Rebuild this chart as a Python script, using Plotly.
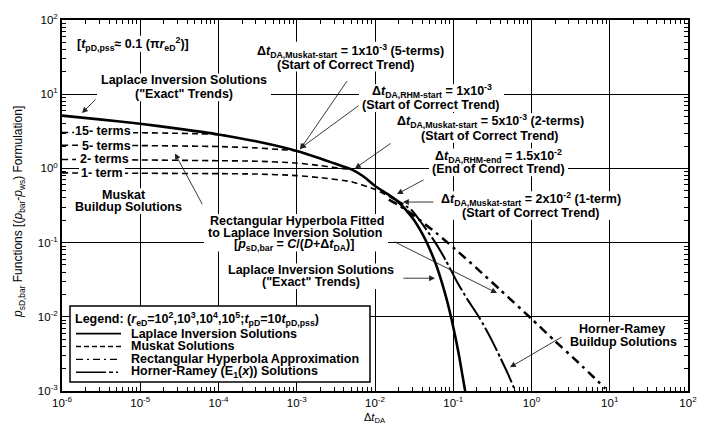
import plotly.graph_objects as go

# ---- curve data: dimensionless shut-in time vs. p_sD,bar ----
laplace_dt = [1e-6, 3e-6, 1e-5, 3e-5, 1e-4, 3e-4, 1e-3, 2e-3, 3e-3, 5e-3, 7e-3, 1e-2,
              1.5e-2, 2e-2, 3e-2, 4e-2, 5e-2, 6e-2, 7e-2, 8e-2, 9e-2, 0.1, 0.11, 0.12, 0.13, 0.142]
laplace_p = [5.14, 4.58, 4.0, 3.44, 2.87, 2.32, 1.72, 1.36, 1.17, 0.97, 0.79, 0.58,
             0.44, 0.35, 0.216, 0.133, 0.082, 0.051, 0.0313, 0.0193, 0.0119, 0.0073, 0.0045, 0.0028, 0.0017, 0.001]

muskat15_dt = [1e-6, 1e-5, 3e-5, 6e-5, 1e-4, 1.5e-4]
muskat15_p = [3.05, 3.02, 2.97, 2.92, 2.87, 2.67]

muskat5_dt = [1e-6, 1e-5, 1e-4, 3e-4, 6e-4, 1e-3, 1.5e-3]
muskat5_p = [2.05, 2.03, 1.97, 1.89, 1.80, 1.72, 1.52]

muskat2_dt = [1e-6, 1e-5, 1e-4, 3e-4, 1e-3, 2e-3, 3e-3, 4e-3, 5e-3, 7e-3]
muskat2_p = [1.32, 1.30, 1.27, 1.25, 1.18, 1.09, 1.03, 0.99, 0.965, 0.79]

muskat1_dt = [1e-6, 1e-5, 1e-4, 3e-4, 1e-3, 2e-3, 5e-3, 1e-2, 1.5e-2, 2e-2, 3e-2]
muskat1_p = [0.87, 0.86, 0.85, 0.84, 0.80, 0.75, 0.66, 0.52, 0.42, 0.35, 0.216]

hyperbola_dt = [0.015, 0.02, 0.03, 0.04, 0.06, 0.1, 0.2, 0.4, 1.0, 2.0, 4.0, 8.8]
hyperbola_p = [0.38, 0.32, 0.24, 0.19, 0.136, 0.086, 0.045, 0.023, 0.0094, 0.0047, 0.0024, 0.00108]

horner_dt = [0.012, 0.015, 0.02, 0.025, 0.0295, 0.04, 0.059, 0.08, 0.111, 0.15, 0.215, 0.3, 0.4, 0.5, 0.62]
horner_p = [0.50, 0.44, 0.36, 0.31, 0.273, 0.18, 0.1, 0.058, 0.030, 0.0175, 0.0098, 0.0052, 0.0028, 0.0017, 0.001]

x_decades = [-6, -5, -4, -3, -2, -1, 0, 1, 2]
y_decades = [-3, -2, -1, 0, 1, 2]

FONT = "Liberation Sans, Arial, Helvetica, sans-serif"
W, H = 714, 428
L, R, T, B = 62, 26, 16, 37
PW, PH = W - L - R, H - T - B

fig = go.Figure()


def add_curve(x, y, dash, width):
    fig.add_trace(go.Scatter(
        x=x, y=y, mode="lines", showlegend=False, hoverinfo="skip",
        line=dict(color="black", width=width, dash=dash, shape="spline", smoothing=0.6),
    ))


MUSKAT_DASH = "6px,4px"
HYPER_DASH = "9px,5px,3px,5px"
HORNER_DASH = "26px,3px,3px,3px"

add_curve(muskat15_dt, muskat15_p, MUSKAT_DASH, 1.6)
add_curve(muskat5_dt, muskat5_p, MUSKAT_DASH, 1.6)
add_curve(muskat2_dt, muskat2_p, MUSKAT_DASH, 1.6)
add_curve(muskat1_dt, muskat1_p, MUSKAT_DASH, 1.6)
add_curve(hyperbola_dt, hyperbola_p, HYPER_DASH, 2.5)
add_curve(horner_dt, horner_p, HORNER_DASH, 2.0)
add_curve(laplace_dt, laplace_p, "solid", 2.6)


# ---- helpers for placing text in pixel units ----
def xp(px):
    return (px - L) / PW


def yp(py):
    return (H - B - py) / PH


def blank(x0, x1, y0, y1):
    """White panel behind a text block (masks grid and curves underneath)."""
    fig.add_shape(type="rect", xref="paper", yref="paper", x0=xp(x0), x1=xp(x1), y0=yp(y1), y1=yp(y0),
                  line=dict(width=0), fillcolor="white", layer="above")


def label(text, x, y, size=12.5, anchor="center"):
    fig.add_annotation(
        text=text, x=xp(x), y=yp(y), xref="paper", yref="paper", showarrow=False,
        xanchor=anchor, yanchor="middle",
        font=dict(family=FONT, size=size, color="black", weight="bold"),
    )


def arrow(x0, y0, x1, y1):
    fig.add_annotation(
        text="", x=xp(x1), y=yp(y1), xref="paper", yref="paper",
        ax=x0 - x1, ay=y0 - y1, showarrow=True, arrowhead=2, arrowsize=1.3,
        arrowwidth=0.9, arrowcolor="#222", standoff=0,
    )


DT = "\u0394<i>t</i>"

# text panels
for box in [
    (74, 190, 32, 48), (251, 449, 38, 68), (359, 504, 81, 109), (391, 589, 110, 140),
    (429, 568, 146, 174), (436, 626, 189, 218), (97, 271, 70, 98),
    (74, 133, 121, 135), (80, 132, 136, 150), (76, 132, 150, 164), (79, 125, 164, 178),
    (104, 144, 186, 199), (72, 184, 198, 212), (204, 388, 212, 250), (224, 398, 262, 288),
    (566, 680, 321, 348),
]:
    blank(*box)

label("[<i>t</i><sub>pD,pss</sub>\u2248 0.1 (\u03c0<i>r</i><sub>eD</sub><sup>2</sup>)]", 75, 40, anchor="left")

label(DT + "<sub>DA,Muskat-start</sub> = 1x10<sup>-3</sup> (5-terms)", 350, 47)
label("(Start of Correct Trend)", 346, 61)
label(DT + "<sub>DA,RHM-start</sub> = 1x10<sup>-3</sup>", 432, 88)
label("(Start of Correct Trend)", 431, 102)
label(DT + "<sub>DA,Muskat-start</sub> = 5x10<sup>-3</sup> (2-terms)", 490, 118)
label("(Start of Correct Trend)", 490, 133)
label(DT + "<sub>DA,RHM-end</sub> = 1.5x10<sup>-2</sup>", 498, 153)
label("(End of Correct Trend)", 498, 167)
label(DT + "<sub>DA,Muskat-start</sub> = 2x10<sup>-2</sup> (1-term)", 531, 197)
label("(Start of Correct Trend)", 531, 211)

label("Laplace Inversion Solutions", 184, 77)
label("(\"Exact\" Trends)", 184, 91)

label("15- terms", 103, 128)
label("5- terms", 106, 143)
label("2- terms", 104, 157)
label("1- term", 102, 171)

label("Muskat", 124, 193)
label("Buildup Solutions", 128, 205)

label("Rectangular Hyperbola Fitted", 297, 219)
label("to Laplace Inversion Solution", 295, 231)
label("[<i>p</i><sub>sD,bar</sub> = <i>C</i>/(<i>D</i>+" + DT + "<sub>DA</sub>)]", 294, 243)

label("Laplace Inversion Solutions", 311, 269)
label("(\"Exact\" Trends)", 311, 281)

label("Horner-Ramey", 622, 328)
label("Buildup Solutions", 623, 341)

# ---- legend box ----
fig.add_shape(type="rect", xref="paper", yref="paper", x0=xp(70), x1=xp(370), y0=yp(382), y1=yp(305),
              line=dict(color="black", width=1.5), fillcolor="white", layer="above")
legend_rows = [
    ("Laplace Inversion Solutions", "solid", 1.6, 333),
    ("Muskat Solutions", "5px,3px", 1.4, 346),
    ("Rectangular Hyperbola Approximation", "7px,4px,2px,4px", 1.4, 359),
    ("Horner-Ramey (E<sub>1</sub>(<i>x</i>)) Solutions", "30px,3px,4px,3px,2px,3px", 1.4, 372),
]
label("Legend: (<i>r</i><sub>eD</sub>=10<sup>2</sup>,10<sup>3</sup>,10<sup>4</sup>,10<sup>5</sup>;"
      "<i>t</i><sub>pD</sub>=10<i>t</i><sub>pD,pss</sub>)", 73, 318, anchor="left")
for text, dash, width, ypix in legend_rows:
    fig.add_shape(type="line", xref="paper", yref="paper", x0=xp(76), x1=xp(121), y0=yp(ypix), y1=yp(ypix),
                  line=dict(color="black", width=width, dash=dash), layer="above")
    label(text, 129, ypix, anchor="left")

# ---- arrows ----
arrow(348, 77, 300, 147)
arrow(360, 102, 300, 146)
arrow(392, 140, 355, 166)
arrow(425, 177, 397, 192)
arrow(435, 200, 403, 200)
arrow(97, 95, 82, 110)
arrow(203, 203, 175, 151)
arrow(393, 240, 497, 292)
arrow(402, 277, 435, 277)
arrow(563, 336, 510, 367)

# ---- axis titles ----
fig.add_annotation(
    text="<i>p</i><sub>sD,bar</sub> Functions [(<i>p</i><sub>bar</sub>-<i>p</i><sub>ws</sub>) Formulation]",
    x=xp(19), y=yp(210), xref="paper", yref="paper", showarrow=False, textangle=-90,
    xanchor="center", yanchor="middle", font=dict(family=FONT, size=12, color="black"),
)
fig.add_annotation(
    text=DT + "<sub>DA</sub>", x=xp(375), y=yp(418), xref="paper", yref="paper", showarrow=False,
    xanchor="center", yanchor="middle", font=dict(family=FONT, size=11, color="black"),
)


def log_axis(decades):
    major = [10.0 ** e for e in decades]
    text = ["10<sup>%d</sup>" % e for e in decades]
    minor = [m * 10.0 ** e for e in decades[:-1] for m in range(2, 10)]
    return dict(
        type="log", range=[decades[0], decades[-1]], tickvals=major, ticktext=text,
        showline=True, linecolor="black", linewidth=1.8,
        mirror="allticks", ticks="inside", ticklen=8, tickwidth=1.2, tickcolor="black",
        showgrid=True, gridcolor="black", gridwidth=1.3, zeroline=False,
        minor=dict(ticks="inside", ticklen=4, tickwidth=1, tickcolor="black", tickvals=minor, showgrid=False),
        tickfont=dict(family=FONT, size=11.5, color="black"),
    )


fig.update_xaxes(**log_axis(x_decades))
fig.update_yaxes(**log_axis(y_decades))

fig.update_layout(
    width=W, height=H, margin=dict(l=L, r=R, t=T, b=B),
    paper_bgcolor="white", plot_bgcolor="white", showlegend=False,
)

fig.write_html("out.html")
